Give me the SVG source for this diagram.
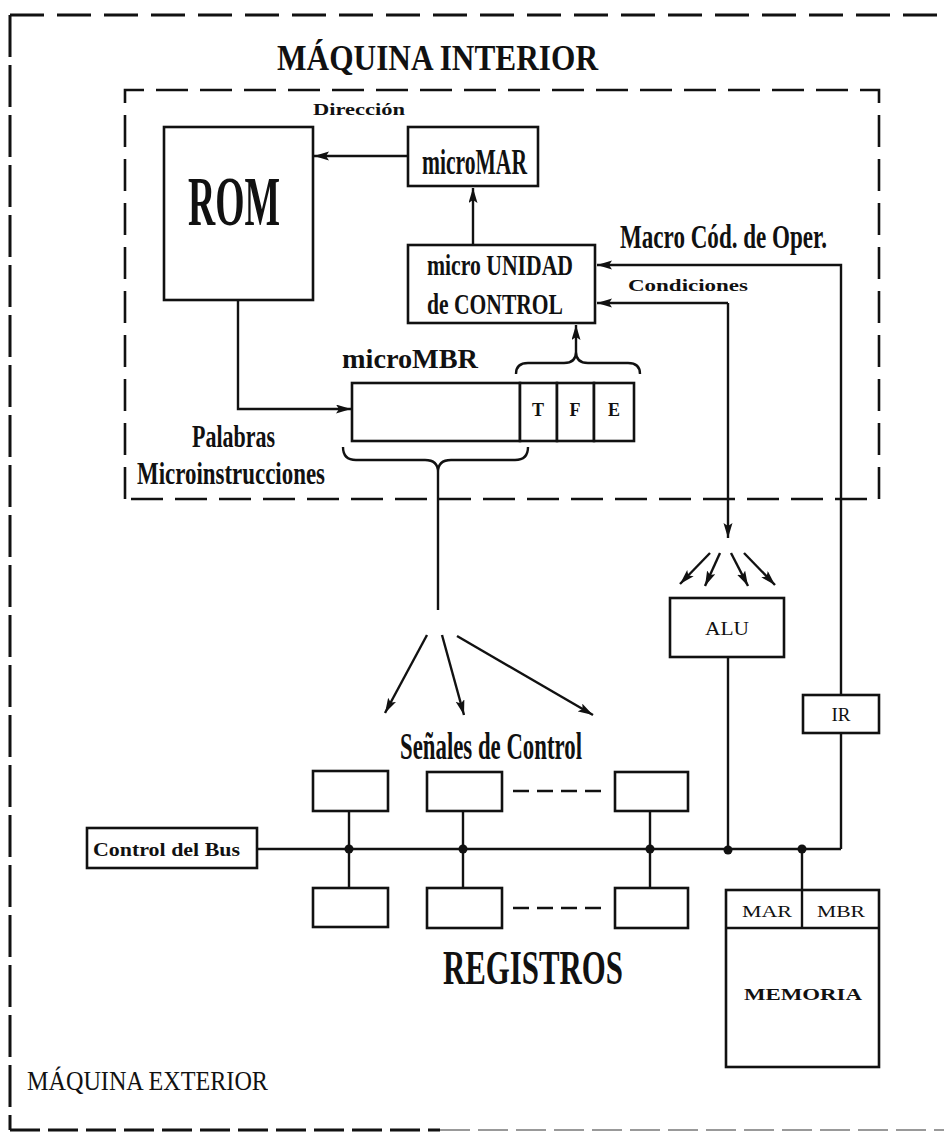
<svg xmlns="http://www.w3.org/2000/svg" width="944" height="1139" viewBox="0 0 944 1139">
<defs>
<marker id="ah" markerUnits="userSpaceOnUse" markerWidth="18" markerHeight="10" refX="15" refY="4.5" orient="auto">
<path d="M0,0 L15,4.5 L0,9 L3,4.5 z" fill="#111"/>
</marker>
<style>
.box{fill:#fff;stroke:#111;stroke-width:2.6}
.ln{fill:none;stroke:#111;stroke-width:2.4}
.arr{fill:none;stroke:#111;stroke-width:2.4;marker-end:url(#ah)}
.dot{fill:#111}
.t{font-family:"Liberation Serif","Times New Roman",serif;fill:#111}
.b{font-weight:bold}
.c{text-anchor:middle}
.outer{fill:none;stroke:#111;stroke-width:3}
.inner{fill:none;stroke:#111;stroke-width:2.6;stroke-dasharray:32 12}
</style>
</defs>
<rect width="944" height="1139" fill="#fff"/>

<g id="maquina-exterior">
<line x1="10" y1="15" x2="944" y2="15" class="outer" stroke-dasharray="34 13"/>
<line x1="10" y1="15" x2="10" y2="1130" class="outer" stroke-dasharray="42 8"/>
<line x1="10" y1="1130" x2="440" y2="1130" class="outer" stroke-width="4.5" stroke-dasharray="30 8"/>
<line x1="440" y1="1130" x2="944" y2="1130" fill="none" stroke="#999" stroke-width="2" stroke-dasharray="30 8"/>
<text x="27" y="1090" class="t" font-size="27" textLength="241" lengthAdjust="spacingAndGlyphs">MÁQUINA EXTERIOR</text>
</g>

<g id="maquina-interior">
<path d="M125,499 L125,90 L879,90 L879,499 Z" class="inner"/>
<text x="277" y="70" class="t b" font-size="35" textLength="321" lengthAdjust="spacingAndGlyphs">MÁQUINA INTERIOR</text>
</g>

<g id="connectors">
<line x1="408" y1="156" x2="314" y2="156" class="arr"/>
<line x1="473" y1="245" x2="473" y2="188" class="arr"/>
<path d="M238,300 L238,409 L351,409" class="arr"/>
<path d="M841,695 L841,265 L597,265" class="arr"/>
<line x1="728" y1="303" x2="597" y2="303" class="arr"/>
<line x1="728" y1="303" x2="728" y2="538" class="arr"/>
<path d="M516,374 Q516,363 528,363 L564,363 Q576,363 576,352 Q576,363 588,363 L628,363 Q640,363 640,374" class="ln"/>
<line x1="576" y1="352" x2="576" y2="325" class="arr"/>
<path d="M343,447 Q343,460 356,460 L425,460 Q438,460 438,472 Q438,460 451,460 L515,460 Q528,460 528,447" class="ln"/>
<line x1="438" y1="472" x2="438" y2="610" class="ln"/>
<line x1="427" y1="635" x2="385" y2="713" class="arr"/>
<line x1="442" y1="635" x2="464" y2="715" class="arr"/>
<line x1="457" y1="636" x2="593" y2="715" class="arr"/>
<line x1="710" y1="553" x2="680" y2="584" class="arr" stroke-width="3"/>
<line x1="720" y1="553" x2="705" y2="586" class="arr" stroke-width="3"/>
<line x1="731" y1="553" x2="748" y2="586" class="arr" stroke-width="3"/>
<line x1="744" y1="553" x2="775" y2="585" class="arr" stroke-width="3"/>
<line x1="728" y1="657" x2="728" y2="850" class="ln"/>
<line x1="257" y1="849" x2="841" y2="849" class="ln"/>
<line x1="841" y1="733" x2="841" y2="849" class="ln"/>
<line x1="802" y1="849" x2="802" y2="890" class="ln"/>
<line x1="349" y1="811" x2="349" y2="888" class="ln"/>
<line x1="463" y1="811" x2="463" y2="888" class="ln"/>
<line x1="650" y1="811" x2="650" y2="888" class="ln"/>
<line x1="513" y1="791" x2="605" y2="791" class="ln" stroke-dasharray="16 8"/>
<line x1="513" y1="908" x2="605" y2="908" class="ln" stroke-dasharray="16 8"/>
<circle cx="349" cy="849" r="4.5" class="dot"/>
<circle cx="463" cy="849" r="4.5" class="dot"/>
<circle cx="650" cy="849" r="4.5" class="dot"/>
<circle cx="728" cy="850" r="4.5" class="dot"/>
<circle cx="802" cy="849" r="4.5" class="dot"/>
<text x="313" y="115" class="t b" font-size="17" textLength="92" lengthAdjust="spacingAndGlyphs">Dirección</text>
<text x="620" y="248" class="t b" font-size="34" textLength="207" lengthAdjust="spacingAndGlyphs">Macro Cód. de Oper.</text>
<text x="628" y="291" class="t b" font-size="17" textLength="120" lengthAdjust="spacingAndGlyphs">Condiciones</text>
<text x="400" y="759" class="t b" font-size="38" textLength="182" lengthAdjust="spacingAndGlyphs">Señales de Control</text>
</g>

<g id="rom">
<rect x="164" y="127" width="149" height="173" class="box"/>
<text x="188" y="225" class="t b" font-size="70" textLength="92" lengthAdjust="spacingAndGlyphs">ROM</text>
</g>

<g id="micromar">
<rect x="408" y="127" width="130" height="59" class="box"/>
<text x="422" y="174" class="t b" font-size="35" textLength="105" lengthAdjust="spacingAndGlyphs">microMAR</text>
</g>

<g id="micro-unidad-control">
<rect x="408" y="245" width="187" height="78" class="box"/>
<text x="427" y="275" class="t b" font-size="29" textLength="146" lengthAdjust="spacingAndGlyphs">micro UNIDAD</text>
<text x="427" y="314" class="t b" font-size="29" textLength="136" lengthAdjust="spacingAndGlyphs">de CONTROL</text>
</g>

<g id="micrombr">
<text x="342" y="368" class="t b" font-size="28" textLength="136" lengthAdjust="spacingAndGlyphs">microMBR</text>
<rect x="352" y="383" width="168" height="58" class="box"/>
<rect x="520" y="383" width="37" height="58" class="box"/>
<rect x="557" y="383" width="37" height="58" class="box"/>
<rect x="594" y="383" width="40" height="58" class="box"/>
<text x="538" y="416" class="t b c" font-size="18">T</text>
<text x="575" y="416" class="t b c" font-size="18">F</text>
<text x="614" y="416" class="t b c" font-size="18">E</text>
<text x="192" y="447" class="t b" font-size="32" textLength="83" lengthAdjust="spacingAndGlyphs">Palabras</text>
<text x="137" y="484" class="t b" font-size="32" textLength="188" lengthAdjust="spacingAndGlyphs">Microinstrucciones</text>
</g>

<g id="alu">
<rect x="670" y="598" width="114" height="59" class="box"/>
<text x="727" y="635" class="t c" font-size="19" textLength="44" lengthAdjust="spacingAndGlyphs">ALU</text>
</g>

<g id="ir">
<rect x="803" y="695" width="76" height="38" class="box"/>
<text x="841" y="721" class="t c" font-size="19">IR</text>
</g>

<g id="control-bus">
<rect x="87" y="828" width="170" height="40" class="box"/>
<text x="93" y="856" class="t b" font-size="18" textLength="147" lengthAdjust="spacingAndGlyphs">Control del Bus</text>
</g>

<g id="registros">
<rect x="313" y="771" width="75" height="40" class="box"/>
<rect x="427" y="772" width="75" height="39" class="box"/>
<rect x="615" y="772" width="73" height="39" class="box"/>
<rect x="313" y="888" width="75" height="39" class="box"/>
<rect x="427" y="888" width="75" height="40" class="box"/>
<rect x="615" y="888" width="73" height="40" class="box"/>
<text x="443" y="984" class="t b" font-size="48" textLength="180" lengthAdjust="spacingAndGlyphs">REGISTROS</text>
</g>

<g id="memoria">
<rect x="726" y="890" width="153" height="177" class="box"/>
<line x1="726" y1="928" x2="879" y2="928" class="ln"/>
<line x1="802" y1="890" x2="802" y2="928" class="ln"/>
<text x="767" y="917" class="t c" font-size="17" textLength="50" lengthAdjust="spacingAndGlyphs">MAR</text>
<text x="841" y="917" class="t c" font-size="17" textLength="48" lengthAdjust="spacingAndGlyphs">MBR</text>
<text x="803" y="1000" class="t b c" font-size="17" textLength="118" lengthAdjust="spacingAndGlyphs">MEMORIA</text>
</g>
</svg>
